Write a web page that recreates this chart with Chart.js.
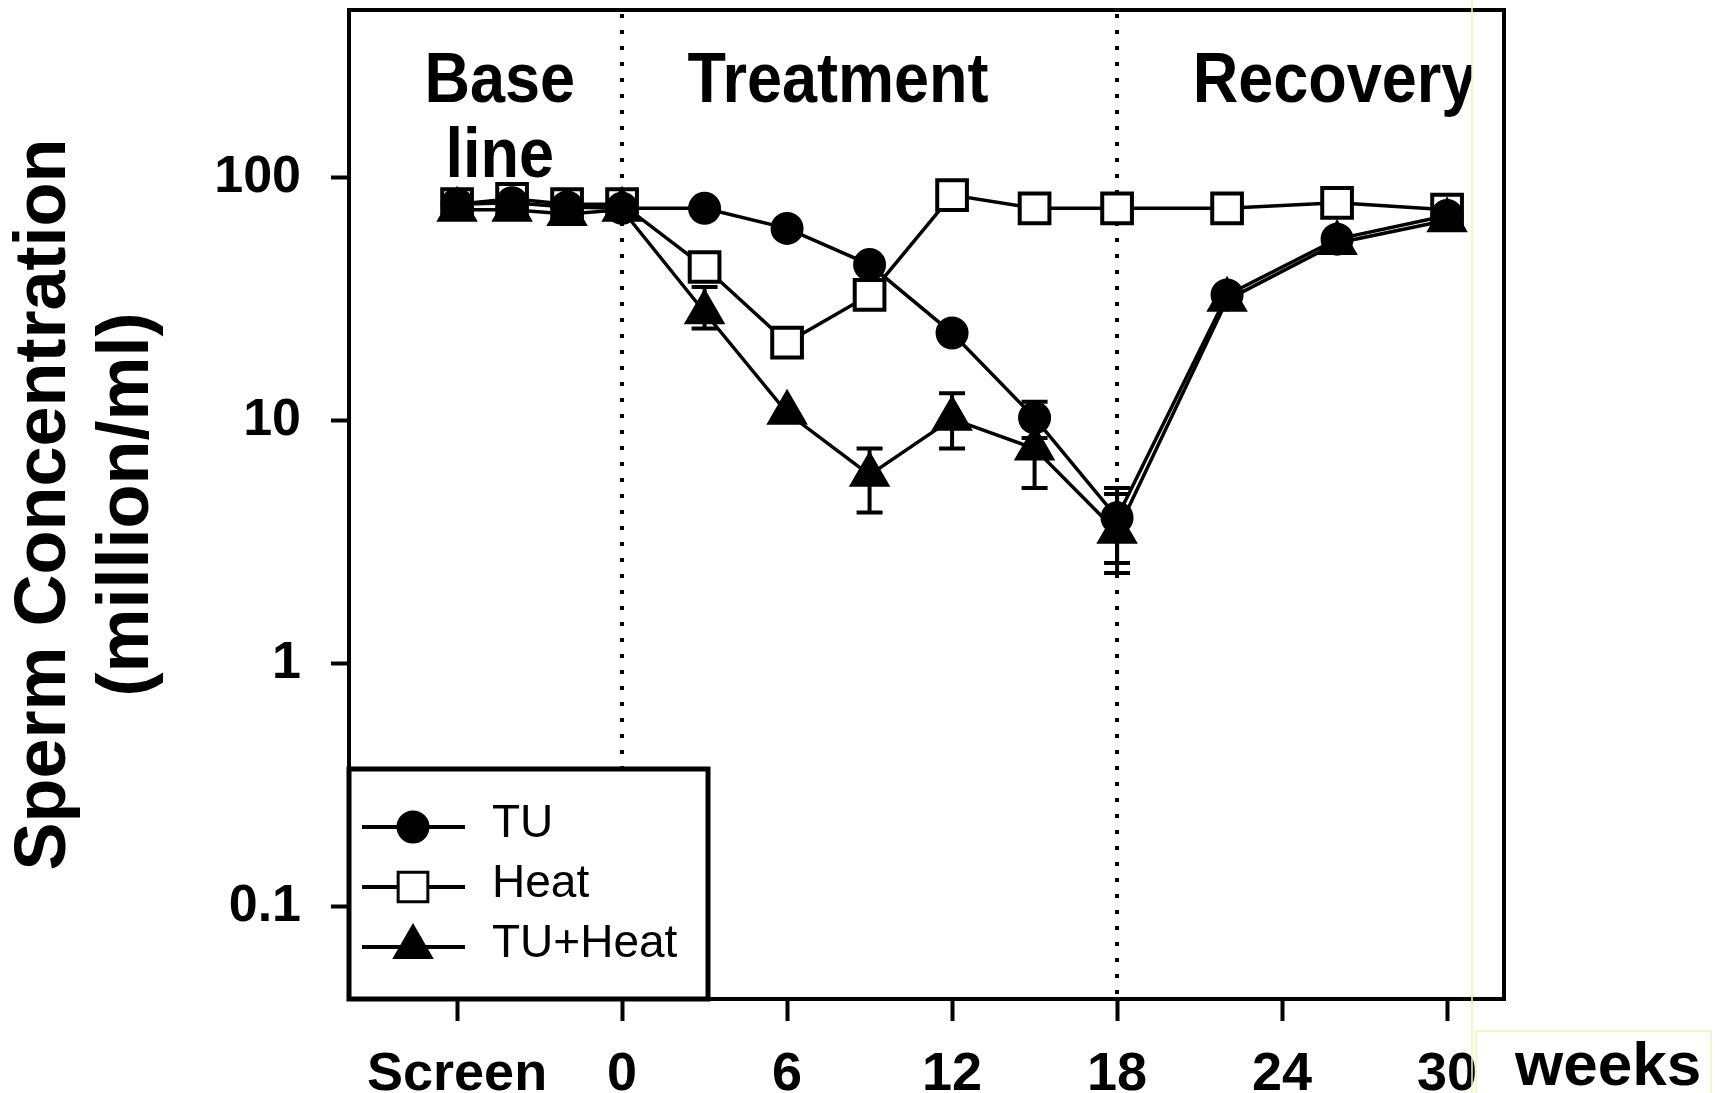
<!DOCTYPE html>
<html>
<head>
<meta charset="utf-8">
<title>Sperm Concentration</title>
<script src="https://cdn.jsdelivr.net/npm/chart.js@4.4.0/dist/chart.umd.min.js"></script>
<style>
  html, body { margin: 0; padding: 0; background: #fff; }
  canvas { display: block; }
</style>
</head>
<body>
<canvas id="spermChart" width="1715" height="1093"></canvas>
<script>
// weeks: -6..0 = screen/baseline, 0..18 treatment, 18..30 recovery
const weeks = [-6, -4, -2, 0, 3, 6, 9, 12, 15, 18, 22, 26, 30];

const tuValues     = [78, 79, 76, 75, 75, 62, 44, 23, 10.3, 4.0, 33, 56, 70];
const heatValues   = [78, 82, 78, 78, 43, 21, 33, 85, 75, 75, 75, 79, 74];
const tuHeatValues = [74, 74, 71, 74, 28, 10.8, 6.0, 10.2, 7.7, 3.5, 31.5, 54, 67];

// error bars (null = none visible)
const tuLow      = [null, null, null, null, null, null, null, null, 8.5, 2.6, null, null, null];
const tuHigh     = [null, null, null, null, null, null, null, null, 12, 5.3, null, null, null];
const tuHeatLow  = [null, null, null, null, 24, null, 4.2, 7.7, 5.3, 2.37, null, null, null];
const tuHeatHigh = [null, null, null, null, 35.6, null, 7.7, 13, 9.5, 5.0, null, null, null];

const xTickValues = [-6, 0, 6, 12, 18, 24, 30];
const xTickLabels = ['Screen', '0', '6', '12', '18', '24', '30'];
const yTickValues = [0.1, 1, 10, 100];
const yTickLabels = ['0.1', '1', '10', '100'];

const phaseDividers = [0, 18];
const phaseNames = ['Base', 'line', 'Treatment', 'Recovery'];
const yTitle = ['Sperm Concentration', '(million/ml)'];
const xUnit = 'weeks';

const FONT = "'Liberation Sans', Arial, Helvetica, sans-serif";

function toPoints(values) {
    return weeks.map((w, i) => ({ x: w, y: values[i] }));
}

function drawMarker(ctx, style, x, y, r, fill) {
    ctx.beginPath();
    if (style === 'circle') {
        ctx.arc(x, y, r, 0, Math.PI * 2);
    } else if (style === 'rect') {
        const s = r * Math.SQRT1_2;
        ctx.rect(x - s, y - s, 2 * s, 2 * s);
    } else {
        let rad = 0;
        ctx.moveTo(x + Math.sin(rad) * r, y - Math.cos(rad) * r);
        rad += Math.PI * 2 / 3;
        ctx.lineTo(x + Math.sin(rad) * r, y - Math.cos(rad) * r);
        rad += Math.PI * 2 / 3;
        ctx.lineTo(x + Math.sin(rad) * r, y - Math.cos(rad) * r);
        ctx.closePath();
    }
    ctx.fillStyle = fill;
    ctx.fill();
    ctx.stroke();
}

// narrow, tall lettering like the original figure
function drawNarrowText(ctx, text, x, y, align) {
    ctx.save();
    ctx.translate(x, y);
    ctx.scale(0.9, 1);
    ctx.textAlign = align;
    ctx.fillText(text, 0, 0);
    ctx.restore();
}

const errorSets = [
    { dataset: 0, low: tuLow, high: tuHigh },
    { dataset: 2, low: tuHeatLow, high: tuHeatHigh }
];

const decorations = {
    id: 'decorations',
    beforeDraw(chart) {
        const ctx = chart.ctx;
        ctx.save();
        ctx.fillStyle = '#fff';
        ctx.fillRect(0, 0, chart.width, chart.height);
        ctx.restore();
    },
    beforeDatasetsDraw(chart) {
        const { ctx, chartArea, scales } = chart;
        ctx.save();
        ctx.strokeStyle = '#000';
        ctx.lineWidth = 4;
        ctx.setLineDash([4, 12]);
        phaseDividers.forEach(w => {
            const x = Math.round(scales.x.getPixelForValue(w));
            ctx.beginPath();
            ctx.moveTo(x, chartArea.top + 4);
            ctx.lineTo(x, chartArea.bottom);
            ctx.stroke();
        });
        ctx.restore();
    },
    afterDatasetsDraw(chart) {
        const { ctx, scales } = chart;
        ctx.save();
        ctx.strokeStyle = '#000';
        ctx.lineWidth = 4;
        errorSets.forEach(set => {
            weeks.forEach((w, i) => {
                if (set.low[i] == null) return;
                const x = scales.x.getPixelForValue(w);
                const y1 = scales.y.getPixelForValue(set.low[i]);
                const y2 = scales.y.getPixelForValue(set.high[i]);
                ctx.beginPath();
                ctx.moveTo(x, y1);
                ctx.lineTo(x, y2);
                ctx.moveTo(x - 13, y1);
                ctx.lineTo(x + 13, y1);
                ctx.moveTo(x - 13, y2);
                ctx.lineTo(x + 13, y2);
                ctx.stroke();
            });
        });
        ctx.restore();
    },
    afterDraw(chart) {
        const { ctx, chartArea, scales } = chart;
        const clipX = 1472;
        ctx.save();

        // phase labels
        ctx.fillStyle = '#000';
        ctx.font = 'bold 70px ' + FONT;
        ctx.textBaseline = 'alphabetic';
        const baseX = scales.x.getPixelForValue(-4.45);
        drawNarrowText(ctx, phaseNames[0], baseX, chartArea.top + 92, 'center');
        drawNarrowText(ctx, phaseNames[1], baseX, chartArea.top + 167, 'center');
        drawNarrowText(ctx, phaseNames[2], scales.x.getPixelForValue(7.85), chartArea.top + 92, 'center');
        ctx.save();
        ctx.beginPath();
        ctx.rect(0, 0, clipX, chart.height);
        ctx.clip();
        drawNarrowText(ctx, phaseNames[3], scales.x.getPixelForValue(20.75), chartArea.top + 92, 'left');
        ctx.restore();

        // legend box
        const lx = chartArea.left;
        const ly = chartArea.bottom - 230;
        ctx.fillStyle = '#fff';
        ctx.fillRect(lx, ly, 359, 230);
        ctx.strokeStyle = '#000';
        ctx.lineWidth = 5;
        ctx.strokeRect(lx, ly, 359, 230);

        ctx.font = '46px ' + FONT;
        ctx.textAlign = 'left';
        ctx.textBaseline = 'middle';
        chart.data.datasets.forEach((ds, i) => {
            const y = ly + 58 + i * 60;
            ctx.lineWidth = 4;
            ctx.beginPath();
            ctx.moveTo(lx + 13, y);
            ctx.lineTo(lx + 116, y);
            ctx.stroke();
            ctx.lineWidth = 3;
            drawMarker(ctx, ds.pointStyle, lx + 64, y, ds.pointRadius, ds.pointBackgroundColor);
            ctx.fillStyle = '#000';
            ctx.fillText(ds.label, lx + 143, y - 3);
        });

        // plot frame
        ctx.lineWidth = 4;
        ctx.strokeStyle = '#000';
        ctx.strokeRect(chartArea.left, chartArea.top, chartArea.right - chartArea.left, chartArea.bottom - chartArea.top);

        // pale yellow edge and the unit label
        ctx.strokeStyle = '#f6f2b0';
        ctx.lineWidth = 1.5;
        ctx.beginPath();
        ctx.moveTo(clipX, 0);
        ctx.lineTo(clipX, chart.height);
        ctx.stroke();
        ctx.strokeRect(clipX + 4, 1031, 235, 70);

        ctx.fillStyle = '#000';
        ctx.font = 'bold 62px ' + FONT;
        ctx.textBaseline = 'alphabetic';
        ctx.textAlign = 'left';
        ctx.fillText(xUnit, 1515, 1085);

        ctx.restore();
    }
};

Chart.defaults.font.family = FONT;
Chart.defaults.color = '#000';

const ctx = document.getElementById('spermChart').getContext('2d');
new Chart(ctx, {
    type: 'line',
    data: {
        datasets: [
            {
                label: 'TU',
                data: toPoints(tuValues),
                borderColor: '#000',
                borderWidth: 3.5,
                pointStyle: 'circle',
                pointRadius: 15,
                pointBackgroundColor: '#000',
                pointBorderColor: '#000',
                pointBorderWidth: 3,
                order: 2
            },
            {
                label: 'Heat',
                data: toPoints(heatValues),
                borderColor: '#000',
                borderWidth: 3.5,
                pointStyle: 'rect',
                pointRadius: 21,
                pointBackgroundColor: '#fff',
                pointBorderColor: '#000',
                pointBorderWidth: 4,
                order: 3
            },
            {
                label: 'TU+Heat',
                data: toPoints(tuHeatValues),
                borderColor: '#000',
                borderWidth: 3.5,
                pointStyle: 'triangle',
                pointRadius: 21,
                pointBackgroundColor: '#000',
                pointBorderColor: '#000',
                pointBorderWidth: 3,
                order: 1
            }
        ]
    },
    options: {
        responsive: false,
        animation: false,
        devicePixelRatio: 1,
        layout: {
            autoPadding: false,
            padding: { left: 0, top: 10, right: 211, bottom: 0 }
        },
        plugins: {
            legend: { display: false },
            tooltip: { enabled: false }
        },
        scales: {
            x: {
                type: 'linear',
                min: -9.93,
                max: 32.07,
                afterBuildTicks: axis => {
                    axis.ticks = xTickValues.map(v => ({ value: v }));
                },
                afterFit: axis => {
                    axis.height = 94;
                    axis.paddingLeft = 0;
                    axis.paddingRight = 0;
                },
                ticks: {
                    autoSkip: false,
                    maxRotation: 0,
                    padding: 22,
                    font: { size: 54, weight: 'bold' },
                    callback: value => xTickLabels[xTickValues.indexOf(value)]
                },
                grid: {
                    drawOnChartArea: false,
                    tickLength: 22,
                    tickWidth: 4,
                    tickColor: '#000'
                },
                border: { display: false }
            },
            y: {
                type: 'logarithmic',
                min: 0.0418,
                max: 491,
                afterBuildTicks: axis => {
                    axis.ticks = yTickValues.map(v => ({ value: v }));
                },
                afterFit: axis => {
                    axis.width = 349;
                    axis.paddingTop = 0;
                    axis.paddingBottom = 0;
                },
                ticks: {
                    padding: 30,
                    font: { size: 52, weight: 'bold' },
                    callback: value => yTickLabels[yTickValues.indexOf(value)]
                },
                grid: {
                    drawOnChartArea: false,
                    tickLength: 18,
                    tickWidth: 4,
                    tickColor: '#000'
                },
                border: { display: false },
                title: {
                    display: true,
                    text: yTitle,
                    font: { size: 72, weight: 'bold', lineHeight: 1.15 },
                    padding: { top: 4, bottom: 0 }
                }
            }
        }
    },
    plugins: [decorations]
});
</script>
</body>
</html>
